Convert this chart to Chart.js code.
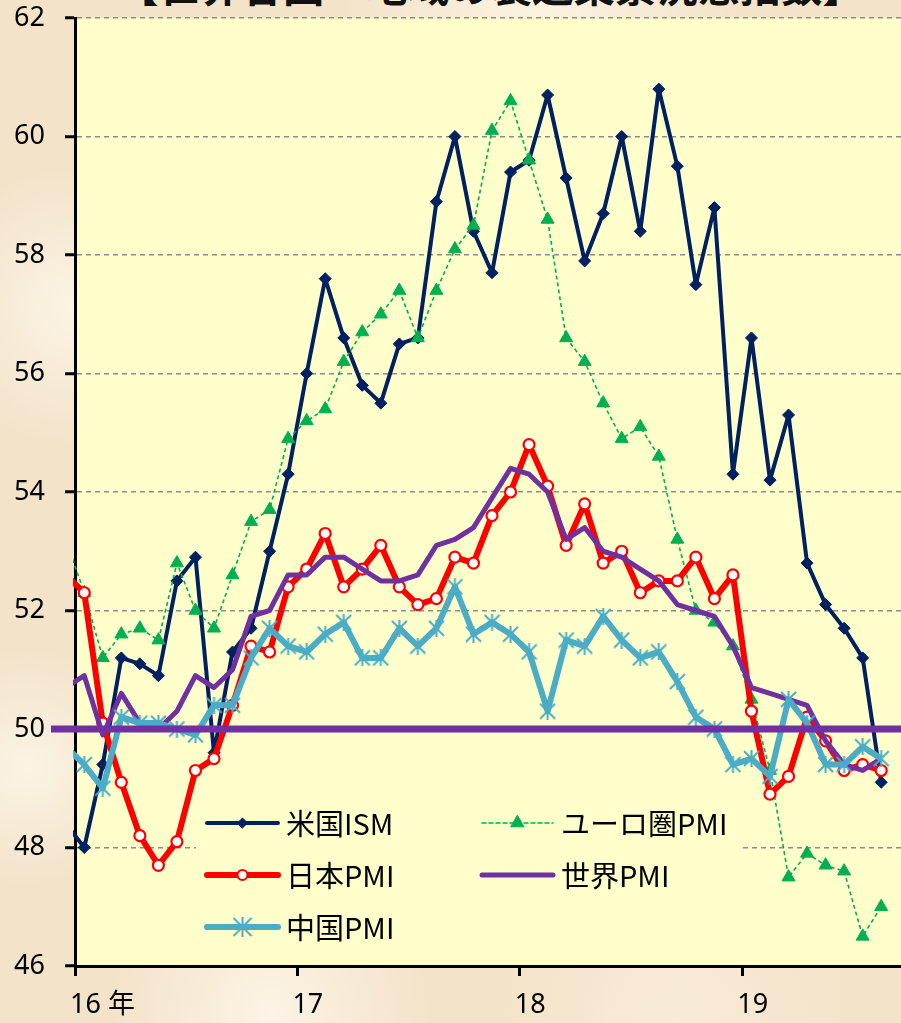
<!DOCTYPE html>
<html lang="ja">
<head>
<meta charset="utf-8">
<title>世界各国・地域の製造業景況感指数</title>
<script src="https://cdn.jsdelivr.net/npm/chart.js@4.4.1/dist/chart.umd.min.js"></script>
<style>
html, body { margin: 0; padding: 0; }
body
{
    width: 901px;
    height: 1023px;
    overflow: hidden;
    position: relative;
    background-color: #f3e3c9;
    background-image:
        radial-gradient(circle at 8% 30%, rgba(255, 249, 238, 0.75) 0, rgba(255, 249, 238, 0) 140px),
        radial-gradient(circle at 3% 75%, rgba(255, 250, 240, 0.7) 0, rgba(255, 250, 240, 0) 120px),
        radial-gradient(circle at 30% 99%, rgba(255, 248, 236, 0.8) 0, rgba(255, 248, 236, 0) 160px),
        radial-gradient(circle at 75% 100%, rgba(250, 238, 218, 0.8) 0, rgba(250, 238, 218, 0) 180px),
        radial-gradient(circle at 60% 0%, rgba(255, 247, 232, 0.8) 0, rgba(255, 247, 232, 0) 200px);
}
#title
{
    position: absolute;
    left: 40px;
    top: -36px;
    width: 901px;
    text-align: center;
    font-family: 'Noto Sans CJK JP', sans-serif;
    font-weight: bold;
    font-size: 41.5px;
    line-height: 41.5px;
    color: #111;
    white-space: nowrap;
}
#chart { position: absolute; left: 0; top: 0; }
</style>
</head>
<body>
<div id="title">【世界各国・地域の製造業景況感指数】</div>
<canvas id="chart" width="901" height="1023"></canvas>
<script>
// months, Dec 2015 .. Aug 2019 (Dec 2015 sits just left of the axis and is clipped)
const months =
[
    '2015-12',
    '2016-01', '2016-02', '2016-03', '2016-04', '2016-05', '2016-06', '2016-07', '2016-08', '2016-09', '2016-10', '2016-11', '2016-12',
    '2017-01', '2017-02', '2017-03', '2017-04', '2017-05', '2017-06', '2017-07', '2017-08', '2017-09', '2017-10', '2017-11', '2017-12',
    '2018-01', '2018-02', '2018-03', '2018-04', '2018-05', '2018-06', '2018-07', '2018-08', '2018-09', '2018-10', '2018-11', '2018-12',
    '2019-01', '2019-02', '2019-03', '2019-04', '2019-05', '2019-06', '2019-07', '2019-08'
];

const usIsm =
[
    48.4,
    48.0, 49.4, 51.2, 51.1, 50.9, 52.5, 52.9, 49.6, 51.3, 51.7, 53.0, 54.3,
    56.0, 57.6, 56.6, 55.8, 55.5, 56.5, 56.6, 58.9, 60.0, 58.4, 57.7, 59.4,
    59.6, 60.7, 59.3, 57.9, 58.7, 60.0, 58.4, 60.8, 59.5, 57.5, 58.8, 54.3,
    56.6, 54.2, 55.3, 52.8, 52.1, 51.7, 51.2, 49.1
];

const euroPmi =
[
    53.2,
    52.3, 51.2, 51.6, 51.7, 51.5, 52.8, 52.0, 51.7, 52.6, 53.5, 53.7, 54.9,
    55.2, 55.4, 56.2, 56.7, 57.0, 57.4, 56.6, 57.4, 58.1, 58.5, 60.1, 60.6,
    59.6, 58.6, 56.6, 56.2, 55.5, 54.9, 55.1, 54.6, 53.2, 52.0, 51.8, 51.4,
    50.5, 49.3, 47.5, 47.9, 47.7, 47.6, 46.5, 47.0
];

const japanPmi =
[
    52.6,
    52.3, 50.1, 49.1, 48.2, 47.7, 48.1, 49.3, 49.5, 50.4, 51.4, 51.3, 52.4,
    52.7, 53.3, 52.4, 52.7, 53.1, 52.4, 52.1, 52.2, 52.9, 52.8, 53.6, 54.0,
    54.8, 54.1, 53.1, 53.8, 52.8, 53.0, 52.3, 52.5, 52.5, 52.9, 52.2, 52.6,
    50.3, 48.9, 49.2, 50.2, 49.8, 49.3, 49.4, 49.3
];

const worldPmi =
[
    50.7,
    50.9, 49.9, 50.6, 50.1, 50.0, 50.3, 50.9, 50.7, 51.0, 51.9, 52.0, 52.6,
    52.6, 52.9, 52.9, 52.7, 52.5, 52.5, 52.6, 53.1, 53.2, 53.4, 53.9, 54.4,
    54.3, 54.0, 53.2, 53.4, 53.0, 52.9, 52.7, 52.5, 52.1, 52.0, 51.9, 51.4,
    50.7, 50.6, 50.5, 50.4, 49.8, 49.4, 49.3, 49.5
];

const chinaPmi =
[
    49.7,
    49.4, 49.0, 50.2, 50.1, 50.1, 50.0, 49.9, 50.4, 50.4, 51.2, 51.7, 51.4,
    51.3, 51.6, 51.8, 51.2, 51.2, 51.7, 51.4, 51.7, 52.4, 51.6, 51.8, 51.6,
    51.3, 50.3, 51.5, 51.4, 51.9, 51.5, 51.2, 51.3, 50.8, 50.2, 50.0, 49.4,
    49.5, 49.2, 50.5, 50.1, 49.4, 49.4, 49.7, 49.5
];

const yearTicks = [2016, 2017, 2018, 2019];
const yearLabels = ['16 年', '17', '18', '19'];

const xMin = 2016;
const xMax = 2019.714;
const boomLine = 50;           // 景気の分かれ目
const boomLineFrom = 2015.892; // starts a bit left of the axis, as in the original

const PLOT_BG = '#ffffcc';
const NAVY = '#002060';
const GREEN = '#00b050';
const RED = '#ff0000';
const PURPLE = '#7030a0';
const CYAN = '#4bacc6';

Chart.defaults.font.family = "'Noto Sans', 'Noto Sans CJK JP', sans-serif";
Chart.defaults.color = '#000';

// months -> position on a year axis (middle of the month)
function monthX(label)
{
    const parts = label.split('-');
    return Number(parts[0]) + (Number(parts[1]) - 0.5) / 12;
}

function toPoints(values)
{
    return values.map((v, i) => ({ x: monthX(months[i]), y: v }));
}

// Excel-like asterisk marker: an X plus a vertical stroke
function makeStar(size, color, lw)
{
    const c = document.createElement('canvas');
    c.width = size;
    c.height = size;

    const g = c.getContext('2d');
    const m = lw / 2;

    g.strokeStyle = color;
    g.lineWidth = lw;
    g.beginPath();
    g.moveTo(size / 2, 0); g.lineTo(size / 2, size);
    g.moveTo(m, m); g.lineTo(size - m, size - m);
    g.moveTo(size - m, m); g.lineTo(m, size - m);
    g.stroke();

    return c;
}

const starChart = makeStar(17, CYAN, 2);
const starLegend = makeStar(20, CYAN, 2);

const plotBackground =
{
    id: 'plotBackground',
    beforeDraw(chart)
    {
        const a = chart.chartArea;
        const ctx = chart.ctx;

        ctx.save();
        ctx.fillStyle = PLOT_BG;
        ctx.fillRect(a.left, a.top, a.right - a.left, a.bottom - a.top);
        ctx.restore();
    }
};

// legend sits inside the plot, two columns, like the Excel original
const legendSlots =
[
    { label: '米国ISM', x: 207, y: 823, marker: { pointStyle: 'rectRot', radius: 5 } },
    { label: 'ユーロ圏PMI', x: 482, y: 823, marker: { pointStyle: 'triangle', radius: 7.5 } },
    { label: '日本PMI', x: 207, y: 875, marker: { pointStyle: 'circle', radius: 5 } },
    { label: '世界PMI', x: 482, y: 875, marker: null },
    { label: '中国PMI', x: 207, y: 927, marker: { pointStyle: starLegend, radius: 10 } }
];

const cornerLegend =
{
    id: 'cornerLegend',
    afterDraw(chart)
    {
        const ctx = chart.ctx;

        ctx.save();
        ctx.fillStyle = PLOT_BG;
        ctx.fillRect(196, 798, 546, 156);

        legendSlots.forEach(slot =>
        {
            const ds = chart.data.datasets.find(d => d.label === slot.label);
            const x0 = slot.x;
            const x1 = slot.x + 71;
            const xm = (x0 + x1) / 2;

            ctx.strokeStyle = ds.borderColor;
            ctx.lineWidth = ds.borderWidth;
            ctx.lineCap = 'round';
            ctx.setLineDash(ds.borderDash || []);
            ctx.beginPath();
            ctx.moveTo(x0, slot.y);
            ctx.lineTo(x1, slot.y);
            ctx.stroke();
            ctx.setLineDash([]);

            if (slot.marker)
            {
                ctx.fillStyle = ds.pointBackgroundColor;
                ctx.strokeStyle = ds.pointBorderColor;
                ctx.lineWidth = ds.pointBorderWidth;
                Chart.helpers.drawPoint(ctx,
                {
                    pointStyle: slot.marker.pointStyle,
                    radius: slot.marker.radius,
                    rotation: 0,
                    borderWidth: ds.pointBorderWidth
                }, xm, slot.y);
            }

            ctx.fillStyle = '#000';
            ctx.font = "29px 'Noto Sans CJK JP'";
            ctx.textAlign = 'left';
            ctx.textBaseline = 'middle';
            ctx.fillText(slot.label, x1 + 8, slot.y + 1);
        });

        ctx.restore();
    }
};

new Chart(document.getElementById('chart'),
{
    type: 'line',
    data:
    {
        datasets:
        [
            {
                label: '50',
                data: [{ x: boomLineFrom, y: boomLine }, { x: xMax, y: boomLine }],
                borderColor: PURPLE,
                borderWidth: 7,
                borderCapStyle: 'butt',
                pointRadius: 0,
                clip: false,
                order: 0
            },
            {
                label: '米国ISM',
                data: toPoints(usIsm),
                borderColor: NAVY,
                borderWidth: 4,
                pointStyle: 'rectRot',
                pointRadius: 6,
                pointBackgroundColor: NAVY,
                pointBorderColor: NAVY,
                pointBorderWidth: 1,
                clip: 2,
                order: 5
            },
            {
                label: 'ユーロ圏PMI',
                data: toPoints(euroPmi),
                borderColor: GREEN,
                borderWidth: 1.6,
                borderDash: [4, 3],
                pointStyle: 'triangle',
                pointRadius: 7.5,
                pointBackgroundColor: GREEN,
                pointBorderColor: GREEN,
                pointBorderWidth: 1,
                clip: 2,
                order: 4
            },
            {
                label: '日本PMI',
                data: toPoints(japanPmi),
                borderColor: RED,
                borderWidth: 6,
                pointStyle: 'circle',
                pointRadius: 5.5,
                pointBackgroundColor: '#ffffff',
                pointBorderColor: RED,
                pointBorderWidth: 2.2,
                clip: 2,
                order: 3
            },
            {
                label: '世界PMI',
                data: toPoints(worldPmi),
                borderColor: PURPLE,
                borderWidth: 5,
                pointRadius: 0,
                clip: 2,
                order: 2
            },
            {
                label: '中国PMI',
                data: toPoints(chinaPmi),
                borderColor: CYAN,
                borderWidth: 6,
                pointStyle: starChart,
                pointRadius: 8,
                pointBackgroundColor: CYAN,
                pointBorderColor: CYAN,
                pointBorderWidth: 0,
                clip: 2,
                order: 1
            }
        ]
    },
    options:
    {
        responsive: false,
        animation: false,
        events: [],
        layout: { autoPadding: false, padding: { top: 18, right: 0, bottom: 0, left: 0 } },
        elements: { line: { tension: 0, borderJoinStyle: 'round' } },
        plugins:
        {
            legend: { display: false },
            tooltip: { enabled: false },
            title: { display: false }
        },
        scales:
        {
            x:
            {
                type: 'linear',
                min: xMin,
                max: xMax,
                afterFit: (scale) =>
                {
                    scale.height = 57;
                    scale.paddingLeft = 0;
                    scale.paddingRight = 0;
                },
                afterBuildTicks: (scale) => { scale.ticks = yearTicks.map(v => ({ value: v })); },
                ticks:
                {
                    callback: (value) => yearLabels[yearTicks.indexOf(value)],
                    align: 'start',
                    labelOffset: -5,
                    padding: 13,
                    maxRotation: 0,
                    autoSkip: false,
                    font: { size: 27 }
                },
                grid:
                {
                    drawOnChartArea: false,
                    drawTicks: true,
                    tickLength: 10,
                    tickColor: '#000',
                    tickWidth: 3
                },
                border: { color: '#000', width: 3 }
            },
            y:
            {
                min: 46,
                max: 62,
                afterFit: (scale) =>
                {
                    scale.width = 75;
                    scale.paddingTop = 0;
                    scale.paddingBottom = 0;
                },
                ticks:
                {
                    stepSize: 2,
                    padding: 20,
                    font: { size: 27 }
                },
                grid:
                {
                    color: (ctx) => (ctx.tick && (ctx.tick.value === 46 || ctx.tick.value === 50)) ? 'rgba(0,0,0,0)' : '#8c8c8c',
                    lineWidth: 1.5,
                    drawTicks: true,
                    tickLength: 10,
                    tickColor: '#000',
                    tickWidth: 3,
                    tickBorderDash: []
                },
                border: { color: '#000', width: 3, dash: [5, 4] }
            }
        }
    },
    plugins: [plotBackground, cornerLegend]
});
</script>
</body>
</html>
